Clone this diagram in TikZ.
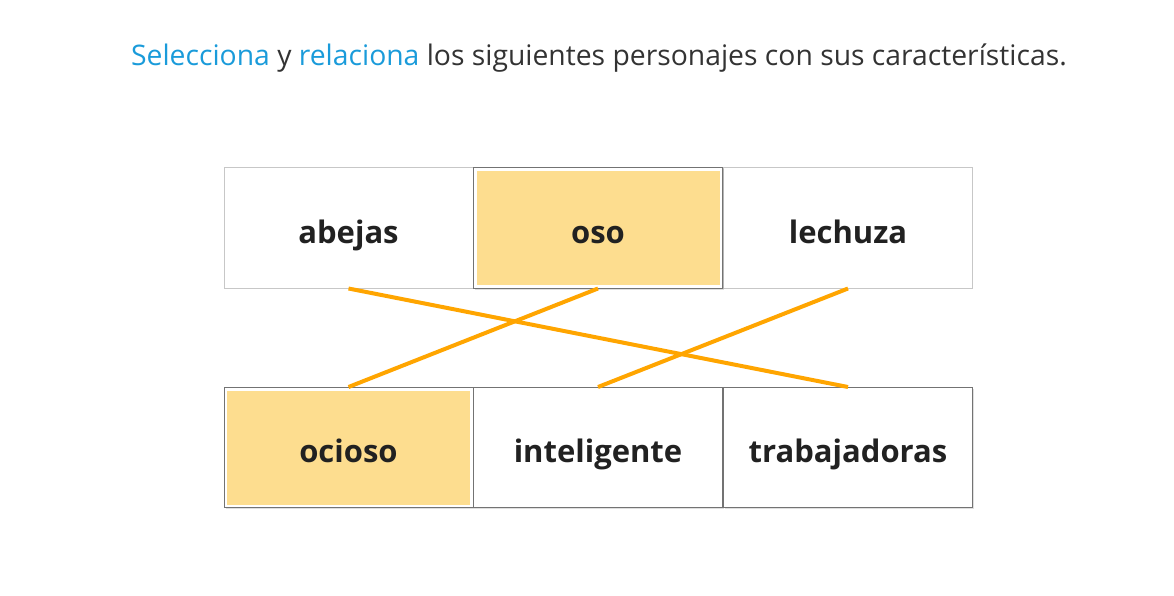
\documentclass[tikz,border=0pt]{standalone}
\usepackage{fontspec}
\setmainfont{Open Sans}
\usepackage{tikz}
\usetikzlibrary{positioning,shadows}
\definecolor{hlfill}{HTML}{FDDD8F}
\definecolor{linkline}{HTML}{FFA500}
\definecolor{askblue}{HTML}{1A9BDA}
\definecolor{inktext}{HTML}{333333}
\begin{document}
\begin{tikzpicture}[x=1pt, y=-1pt]
      \tikzset{
	  cardbox/.style={rectangle, draw=black!22, fill=white, line width=1pt, minimum width=249pt, minimum height=120pt, inner sep=0pt, text height=36pt, text depth=6pt, text=black!87, font=\fontsize{31}{36}\selectfont\bfseries},
	  cardshade/.style={cardbox, draw=black!55, drop shadow={shadow xshift=1.5pt, shadow yshift=-1.5pt, opacity=0.25}},
	  picked/.style={cardshade, path picture={\fill[hlfill] ([shift={(3pt,3pt)}]path picture bounding box.south west) rectangle ([shift={(-3pt,-3pt)}]path picture bounding box.north east);}},
	  linkline/.style={draw=linkline, line width=4pt}
      }
      \useasboundingbox (0,0) rectangle (1174,596);
      \node at (599,58) (ask) {\fontsize{28.3}{32}\selectfont\color{inktext}{\color{askblue}Selecciona} y {\color{askblue}relaciona} los siguientes personajes con sus características.};

      % animales
      \node at (348.5,228) [cardbox] (abejas) {abejas};
      \node at (848,228) [cardbox] (lechuza) {lechuza};
      \node at (598,228) [picked] (oso) {oso};

      % caracteristicas
      \node at (348.5,447.5) [picked] (ocioso) {ocioso};
      \node at (598,447.5) [cardshade] (inteligente) {inteligente};
      \node at (848,447.5) [cardshade] (trabajadoras) {trabajadoras};

      \draw [linkline] (abejas.south) -- (trabajadoras.north);
      \draw [linkline] (oso.south) -- (ocioso.north);
      \draw [linkline] (lechuza.south) -- (inteligente.north);
    \end{tikzpicture}
\end{document}
